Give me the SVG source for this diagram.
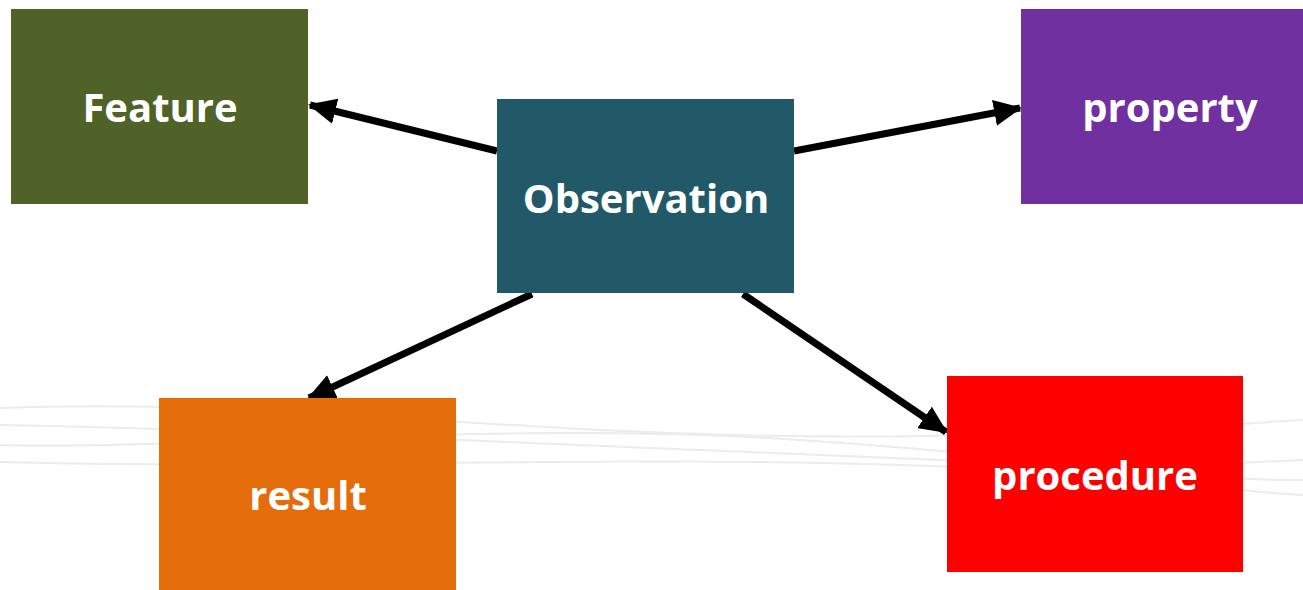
<svg xmlns="http://www.w3.org/2000/svg" width="1303" height="590" viewBox="0 0 1303 590">
<style>
.lbl{font-family:"Open Sans","Noto Sans",sans-serif;font-weight:bold;font-size:40px;fill:#ffffff;text-anchor:middle}
.conn{stroke:#000;stroke-width:7;fill:none;marker-end:url(#ah)}
.bg{stroke:#ececec;stroke-width:2;fill:none}
</style>
<defs>
<marker id="ah" markerUnits="userSpaceOnUse" markerWidth="28" markerHeight="26" refX="26" refY="13" orient="auto">
<path d="M0,0 L28,13 L0,26 Z" fill="#000"/>
</marker>
</defs>
<rect width="1303" height="590" fill="#ffffff"/>
<g id="background">
<path class="bg" d="M0,408 C200,400 400,420 600,430 S1000,440 1303,420"/>
<path class="bg" d="M0,425 C250,430 450,440 700,450 S1100,470 1303,460"/>
<path class="bg" d="M0,445 C200,450 500,420 800,440 S1150,480 1303,480"/>
<path class="bg" d="M0,462 C300,470 600,455 900,465 S1200,490 1303,495"/>
</g>
<g id="connectors">
<line class="conn" x1="497" y1="151" x2="310" y2="105"/>
<line class="conn" x1="794" y1="151" x2="1020" y2="108"/>
<line class="conn" x1="532" y1="294" x2="309" y2="398"/>
<line class="conn" x1="743" y1="294" x2="946" y2="432"/>
</g>
<g id="feature">
<rect x="11" y="9" width="297" height="195" fill="#4F6228"/>
<text class="lbl" x="160" y="122">Feature</text>
</g>
<g id="observation">
<rect x="497" y="99" width="297" height="194" fill="#215968"/>
<text class="lbl" x="646" y="213">Observation</text>
</g>
<g id="property">
<rect x="1021" y="9" width="282" height="195" fill="#7030A0"/>
<text class="lbl" x="1170" y="122">property</text>
</g>
<g id="result">
<rect x="159" y="398" width="297" height="192" fill="#E46C0A"/>
<text class="lbl" x="308" y="510">result</text>
</g>
<g id="procedure">
<rect x="947" y="376" width="296" height="196" fill="#FF0000"/>
<text class="lbl" x="1095" y="490">procedure</text>
</g>
</svg>
